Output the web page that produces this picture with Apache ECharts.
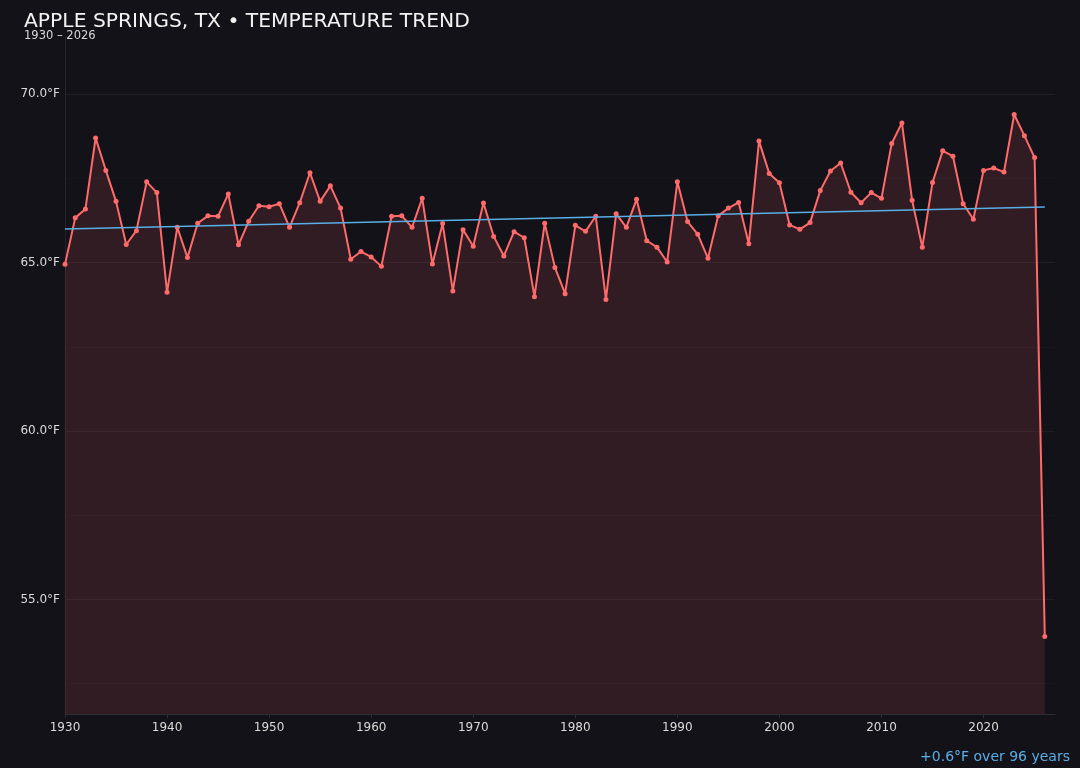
<!DOCTYPE html>
<html>
<head>
<meta charset="utf-8">
<script src="https://cdn.jsdelivr.net/npm/echarts@6/dist/echarts.min.js"></script>
<style>
html,body{margin:0;padding:0;background:#131218;}
#c{width:1080px;height:768px;}
</style>
</head>
<body>
<div id="c"></div>
<script>
const years = [];
for (let y = 1930; y <= 2026; y++) years.push(y);

const temps = [
  64.95, 66.33, 66.59, 68.70, 67.74, 66.82, 65.54, 65.95, 67.40, 67.08,
  64.12, 66.05, 65.15, 66.17, 66.39, 66.38, 67.04, 65.53, 66.23, 66.69,
  66.66, 66.75, 66.05, 66.78, 67.67, 66.82, 67.28, 66.62, 65.10, 65.33,
  65.17, 64.89, 66.38, 66.39, 66.05, 66.91, 64.96, 66.16, 64.16, 65.98,
  65.49, 66.77, 65.78, 65.20, 65.92, 65.74, 63.99, 66.17, 64.86, 64.08,
  66.11, 65.93, 66.38, 63.91, 66.45, 66.05, 66.88, 65.65, 65.46, 65.02,
  67.40, 66.22, 65.84, 65.13, 66.39, 66.62, 66.79, 65.56, 68.61, 67.65,
  67.37, 66.12, 65.99, 66.19, 67.14, 67.72, 67.96, 67.09, 66.78, 67.08,
  66.91, 68.54, 69.15, 66.85, 65.46, 67.38, 68.32, 68.16, 66.75, 66.29,
  67.74, 67.81, 67.69, 69.40, 68.77, 68.12, 53.90
];

const trendYears = [1930, 2026];
const trendValues = [66.00, 66.65];

const xTicks = [1930, 1940, 1950, 1960, 1970, 1980, 1990, 2000, 2010, 2020];

const titleText = 'APPLE SPRINGS, TX \u2022 TEMPERATURE TREND';
const subtitleText = '1930 \u2013 2026';
const noteText = '+0.6\u00b0F over 96 years';

const FONT = 'DejaVu Sans';
const chart = echarts.init(document.getElementById('c'));
chart.setOption({
  backgroundColor: '#131218',
  animation: false,
  textStyle: { fontFamily: FONT },
  title: [
    { text: titleText, left: 24, top: 12, padding: 0, textStyle: { color: '#f2f2f2', fontSize: 20.3, fontWeight: 'normal', fontFamily: FONT } },
    { text: subtitleText, left: 24, top: 30, padding: 0, textStyle: { color: '#d8d8d8', fontSize: 11.5, fontWeight: 'normal', fontFamily: FONT } },
    { text: noteText, right: 10, top: 750, padding: 0, textStyle: { color: '#5aaee6', fontSize: 14, fontWeight: 'normal', fontFamily: FONT } }
  ],
  grid: { left: 65, right: 25, top: 37, bottom: 54, containLabel: false },
  xAxis: {
    type: 'value',
    min: 1930,
    max: 2027,
    interval: 10,
    axisLine: { show: true, lineStyle: { color: '#2e2d36', width: 1 } },
    axisTick: { show: true, length: 4, lineStyle: { color: '#2e2d36' } },
    splitLine: { show: false },
    axisLabel: {
      color: '#dadada', fontSize: 12, fontFamily: FONT, margin: 8,
      showMaxLabel: false,
      formatter: v => (xTicks.indexOf(v) >= 0 ? String(v) : '')
    }
  },
  yAxis: {
    type: 'value',
    min: 51.6,
    max: 71.7,
    splitNumber: 4,
    axisLine: { show: true, lineStyle: { color: '#24232b', width: 1 } },
    axisTick: { show: false },
    splitLine: { show: true, showMinLine: false, showMaxLine: false, lineStyle: { color: 'rgba(255,255,255,0.05)', width: 1 } },
    minorSplitLine: { show: true, lineStyle: { color: 'rgba(255,255,255,0.02)', width: 1 } },
    minorTick: { show: false, splitNumber: 2 },
    axisLabel: {
      color: '#dadada', fontSize: 12, fontFamily: FONT, margin: 5,
      showMinLabel: false, showMaxLabel: false,
      formatter: v => (v % 5 === 0 ? v.toFixed(1) + '\u00b0F' : '')
    }
  },
  series: [
    {
      type: 'line',
      data: years.map((y, i) => [y, temps[i]]),
      symbol: 'circle',
      symbolSize: 5,
      showSymbol: true,
      lineStyle: { color: '#ff6b6b', width: 2 },
      itemStyle: { color: '#ff6b6b' },
      areaStyle: { color: 'rgba(255,107,107,0.18)', origin: 'start' },
      z: 3
    },
    {
      type: 'line',
      data: trendYears.map((y, i) => [y, trendValues[i]]),
      symbol: 'none',
      lineStyle: { color: '#5aaee6', width: 1.5 },
      z: 4
    }
  ]
});
</script>
</body>
</html>
